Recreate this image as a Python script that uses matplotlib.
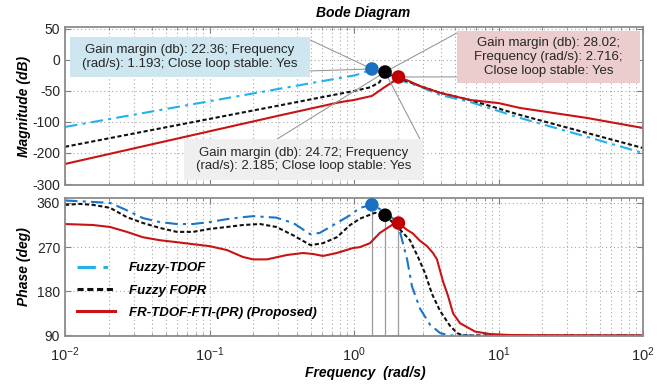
import numpy as np
import matplotlib
matplotlib.use("Agg")
import matplotlib.pyplot as plt
from matplotlib.patches import Rectangle

plt.rcParams['font.family'] = ['Liberation Sans', 'DejaVu Sans']
plt.rcParams['mathtext.default'] = 'regular'

# magnitude curves (dB, on the chart's own y scale)
blue_mag_freq = [0.01, 0.1, 0.5, 1.0, 1.15, 1.33, 1.64, 2.03, 2.86, 3.94, 6.35, 14.1, 41, 100]
blue_mag = [-108, -66.5, -37.5, -25, -21, -14.5, -22, -32, -43, -56.5, -67.7, -93.5, -124, -150]

black_mag_freq = [0.01, 0.1, 0.316, 1.0, 1.3, 1.5, 1.64, 2.03, 2.86, 3.94, 6.35, 14.1, 41, 100]
black_mag = [-140, -95, -72.6, -50, -44, -36, -19.4, -29, -42, -53, -64.5, -88.7, -117.7, -142]

red_mag_freq = [0.01, 0.1, 0.316, 0.8, 1.0, 1.33, 1.6, 1.85, 2.03, 2.4, 2.86, 3.94, 6.35, 10, 14.1, 41, 100]
red_mag = [-167.7, -115, -88.7, -68, -64.5, -58, -45, -35.5, -27.4, -34, -42, -53, -64.5, -69.5, -77.4, -93.5, -109.7]

# phase curves (deg)
blue_ph_freq = [0.01, 0.0156, 0.0205, 0.0268, 0.0347, 0.0454, 0.0595, 0.0769, 0.1, 0.132,
                0.17, 0.2, 0.29, 0.38, 0.5, 0.58, 0.72, 0.94, 1.1, 1.33, 1.64, 2.0, 2.15,
                2.33, 2.52, 2.86, 3.36, 3.94, 4.6, 100]
blue_ph = [365, 362, 360, 345, 329, 321, 317, 317, 321, 327,
           331, 333, 330, 319, 296, 299, 315, 335, 350, 356, 342, 320, 285,
           245, 190, 145, 112, 95, 90, 90]

black_ph_freq = [0.01, 0.0127, 0.0156, 0.0205, 0.0268, 0.0347, 0.0454, 0.0595, 0.0769, 0.1,
                 0.132, 0.17, 0.224, 0.29, 0.38, 0.5, 0.61, 0.76, 0.94, 1.1, 1.4, 1.64, 2.0,
                 2.44, 2.77, 3.1, 3.46, 3.94, 4.61, 5.17, 5.68, 100]
black_ph = [356, 358, 356, 350, 331, 319, 309, 301, 301, 307,
            311, 315, 317, 311, 294, 274, 278, 290, 315, 328, 340, 335, 311,
            284, 250, 217, 175, 140, 110, 95, 90, 90]

red_ph_freq = [0.01, 0.0156, 0.0205, 0.0268, 0.0347, 0.0454, 0.0595, 0.0769, 0.1, 0.132,
               0.17, 0.2, 0.25, 0.344, 0.443, 0.52, 0.61, 0.76, 0.98, 1.1, 1.29, 1.51, 1.83,
               2.03, 2.33, 2.55, 2.86, 3.2, 3.52, 3.75, 4.13, 4.48, 4.85, 5.42, 6.88, 8.73,
               12.0, 19.4, 100]
red_ph = [317, 315, 311, 301, 290, 284, 280, 276, 272, 264,
          250, 245, 245, 254, 258, 256, 252, 258, 268, 270, 278, 299, 315,
          319, 305, 298, 283, 272, 258, 245, 200, 170, 135, 115, 98, 93,
          91, 90.5, 90]

# data tip points
marker_freq = [1.33, 1.64, 2.03]
marker_mag = [-14.5, -19.4, -27.4]
marker_phase = [356, 335, 319]

labels = ['Fuzzy-TDOF', 'Fuzzy FOPR', 'FR-TDOF-FTI-(PR) (Proposed)']
mag_ticks = [50, 0, -50, -100, -150, -200]
mag_ticklabels = ['50', '0', '-50', '-100', '-200', '-300']
phase_ticks = [90, 180, 270, 360]

tip_blue = 'Gain margin (db): 22.36; Frequency\n(rad/s): 1.193; Close loop stable: Yes'
tip_red = 'Gain margin (db): 28.02;\nFrequency (rad/s): 2.716;\nClose loop stable: Yes'
tip_grey = 'Gain margin (db): 24.72; Frequency\n(rad/s): 2.185; Close loop stable: Yes'

fig = plt.figure(figsize=(6.64, 3.85), dpi=100)
ax1 = fig.add_axes([0.0979, 0.5195, 0.8705, 0.4104])
ax2 = fig.add_axes([0.0979, 0.1273, 0.8705, 0.3584])

c_blue_mag = '#22b2e8'
c_blue_ph = '#1a74c8'
c_black = '#111111'
c_red = '#c81414'

# magnitude
l1, = ax1.plot(blue_mag_freq, blue_mag, color=c_blue_mag, lw=1.5, dashes=(6, 2.5, 1.5, 2.5), label=labels[0])
l2, = ax1.plot(black_mag_freq, black_mag, color=c_black, lw=1.5, dashes=(2, 1.2), label=labels[1])
l3, = ax1.plot(red_mag_freq, red_mag, color=c_red, lw=1.5, label=labels[2])
ax1.scatter(marker_freq, marker_mag, s=95, c=['#1a6fc0', '#000000', '#c00000'], zorder=8, edgecolors='none')

# phase
ax2.plot(blue_ph_freq, blue_ph, color=c_blue_ph, lw=1.5, dashes=(6, 2.5, 1.5, 2.5))
ax2.plot(black_ph_freq, black_ph, color=c_black, lw=1.5, dashes=(2, 1.2))
ax2.plot(red_ph_freq, red_ph, color=c_red, lw=1.5)
ax2.vlines(marker_freq, 88, marker_phase, colors='#9a9a9a', lw=0.9, zorder=1.5)
ax2.scatter(marker_freq, marker_phase, s=95, c=['#1a6fc0', '#000000', '#c00000'], zorder=8, edgecolors='none')

for ax in (ax1, ax2):
    ax.set_xscale('log')
    ax.set_xlim(0.01, 100)
    ax.grid(True, which='both', axis='x', linestyle=(0, (1, 2.5)), color='#a8a8a8', lw=0.8)
    ax.grid(True, which='major', axis='y', linestyle=(0, (1, 2.5)), color='#a8a8a8', lw=0.8)
    ax.tick_params(which='both', direction='in', top=True, right=True, colors='#808080',
                   labelcolor='#262626', labelsize=10)
    ax.tick_params(which='major', length=4)
    ax.tick_params(which='minor', length=2)
    for s in ax.spines.values():
        s.set_color('#8c8c8c')
        s.set_linewidth(1.3)

ax1.set_ylim(-201.6, 53.2)
ax1.set_yticks(mag_ticks)
ax1.set_yticklabels(mag_ticklabels)
ax1.tick_params(axis='x', which='both', labelbottom=False)
ax1.set_ylabel('Magnitude (dB)', fontsize=10, fontweight='bold', fontstyle='italic')
ax1.yaxis.set_label_coords(-0.058, 0.5)

ax2.set_ylim(89, 370)
ax2.set_yticks(phase_ticks)
ax2.tick_params(axis='x', which='major', pad=7, labelsize=10.5)
ax2.set_ylabel('Phase (deg)', fontsize=10, fontweight='bold', fontstyle='italic')
ax2.yaxis.set_label_coords(-0.058, 0.5)
ax2.set_xlabel('Frequency  (rad/s)', fontsize=10, fontweight='bold', fontstyle='italic')
ax2.xaxis.set_label_coords(0.519, -0.215)

fig.text(363 / 664, 1 - 13 / 385, 'Bode Diagram', ha='center', va='center',
         fontsize=10, fontweight='bold', fontstyle='italic')

# data tip boxes and their leader lines
line_kw = dict(arrowstyle='-', color='#9a9a9a', lw=0.8, shrinkA=0, shrinkB=0)
for xy_text, i in [((0.424, 0.918), 0), ((0.424, 0.722), 0),
                   ((0.678, 0.962), 1), ((0.678, 0.684), 2),
                   ((0.367, 0.291), 1), ((0.614, 0.291), 1)]:
    ax1.annotate('', xy=(marker_freq[i], marker_mag[i]), xycoords='data',
                 xytext=xy_text, textcoords='axes fraction', arrowprops=line_kw, zorder=4)

boxes = [((0.0087, 0.684), 0.415, 0.253, '#cde6ef', tip_blue),
         ((0.678, 0.646), 0.317, 0.329, '#ebcdcd', tip_red),
         ((0.206, 0.032), 0.413, 0.259, '#efefef', tip_grey)]
for (bx, by), bw, bh, fc, txt in boxes:
    ax1.add_patch(Rectangle((bx, by), bw, bh, transform=ax1.transAxes,
                            facecolor=fc, edgecolor='none', zorder=6))
    ax1.text(bx + bw / 2, by + bh / 2, txt, transform=ax1.transAxes, ha='center', va='center',
             fontsize=9.5, color='#262626', zorder=7, linespacing=1.2)

leg = ax2.legend(handles=[l1, l2, l3], loc='upper left', bbox_to_anchor=(0.021, 0.535),
                 frameon=False, borderpad=0, borderaxespad=0, handlelength=2.9,
                 handletextpad=1.0, labelspacing=0.75,
                 prop=dict(size=9.5, weight='bold', style='italic'))
for h in leg.legend_handles:
    h.set_linewidth(2.2)

fig.savefig('out.png', dpi=100)
